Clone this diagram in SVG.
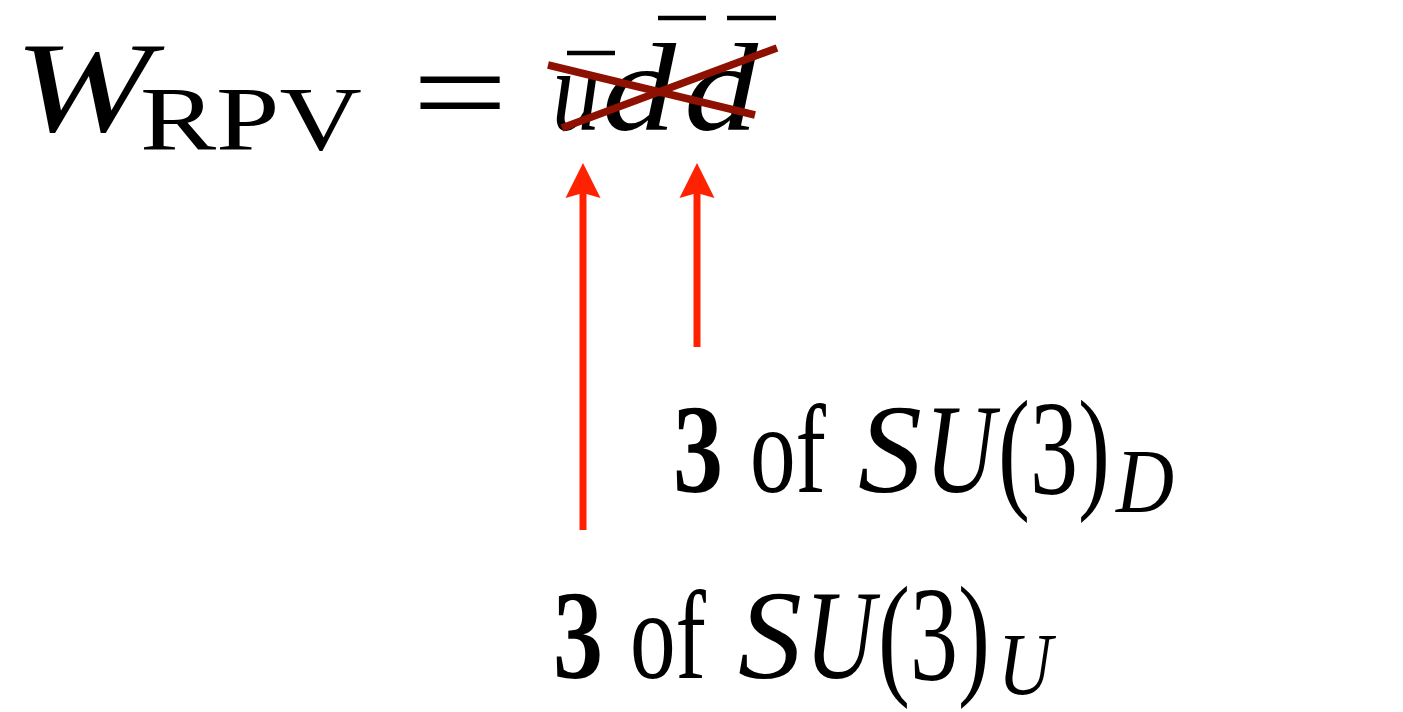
<svg xmlns="http://www.w3.org/2000/svg" width="1403" height="712" viewBox="0 0 1403 712">
<style>
.t{font-family:"Liberation Serif","DejaVu Serif",serif;fill:#000}
.i{font-style:italic}
.b{font-weight:bold}
.bar{stroke:#000;stroke-width:4.5}
.cross{stroke:#8E1000;stroke-width:7.5;stroke-linecap:butt}
.arr{stroke:#FF2200;stroke-width:7;fill:none}
</style>
<defs>
<marker id="ah" markerUnits="userSpaceOnUse" viewBox="0 0 36 36" markerWidth="36" markerHeight="36" refX="8" refY="18" orient="auto">
<path d="M0,0.5 L35,18 L0,35.5 L5,18 z" fill="#FF2200"/>
</marker>
</defs>
<g id="formula">
<text class="t" font-size="130"><tspan class="i" x="14" y="131" textLength="138" lengthAdjust="spacingAndGlyphs">W</tspan><tspan x="140" y="150" font-size="92" textLength="222" lengthAdjust="spacingAndGlyphs">RPV</tspan><tspan x="412" y="136" textLength="96" lengthAdjust="spacingAndGlyphs">=</tspan><tspan class="i" x="552" y="130" font-size="116" textLength="48" lengthAdjust="spacingAndGlyphs">u</tspan><tspan class="i" x="602" y="130" font-size="124" textLength="74" lengthAdjust="spacingAndGlyphs">d</tspan><tspan class="i" x="684" y="130" font-size="124" textLength="74" lengthAdjust="spacingAndGlyphs">d</tspan></text>
<line class="bar" x1="567" y1="53" x2="615" y2="53"/>
<line class="bar" x1="658" y1="18" x2="706" y2="18"/>
<line class="bar" x1="727" y1="18" x2="776" y2="18"/>
<line class="cross" x1="548" y1="65" x2="755" y2="115"/>
<line class="cross" x1="562" y1="128" x2="777" y2="48"/>
</g>
<g id="label-d">
<text class="t" font-size="128"><tspan class="b" x="673" y="492" textLength="50" lengthAdjust="spacingAndGlyphs">3</tspan><tspan x="750" y="492" textLength="76" lengthAdjust="spacingAndGlyphs">of</tspan><tspan class="i" x="858" y="492" textLength="64" lengthAdjust="spacingAndGlyphs">S</tspan><tspan class="i" x="925" y="492" textLength="70" lengthAdjust="spacingAndGlyphs">U</tspan><tspan x="998" y="494" font-size="136" textLength="112" lengthAdjust="spacingAndGlyphs">(3)</tspan><tspan class="i" x="1116" y="512" font-size="92" textLength="58" lengthAdjust="spacingAndGlyphs">D</tspan></text>
</g>
<g id="label-u">
<text class="t" font-size="128"><tspan class="b" x="553" y="678" textLength="50" lengthAdjust="spacingAndGlyphs">3</tspan><tspan x="630" y="678" textLength="76" lengthAdjust="spacingAndGlyphs">of</tspan><tspan class="i" x="738" y="678" textLength="64" lengthAdjust="spacingAndGlyphs">S</tspan><tspan class="i" x="805" y="678" textLength="70" lengthAdjust="spacingAndGlyphs">U</tspan><tspan x="878" y="680" font-size="136" textLength="112" lengthAdjust="spacingAndGlyphs">(3)</tspan><tspan class="i" x="998" y="694" font-size="88" textLength="54" lengthAdjust="spacingAndGlyphs">U</tspan></text>
</g>
<g id="connectors">
<line class="arr" x1="583" y1="530" x2="583" y2="190" marker-end="url(#ah)"/>
<line class="arr" x1="697" y1="347" x2="697" y2="190" marker-end="url(#ah)"/>
</g>
</svg>
